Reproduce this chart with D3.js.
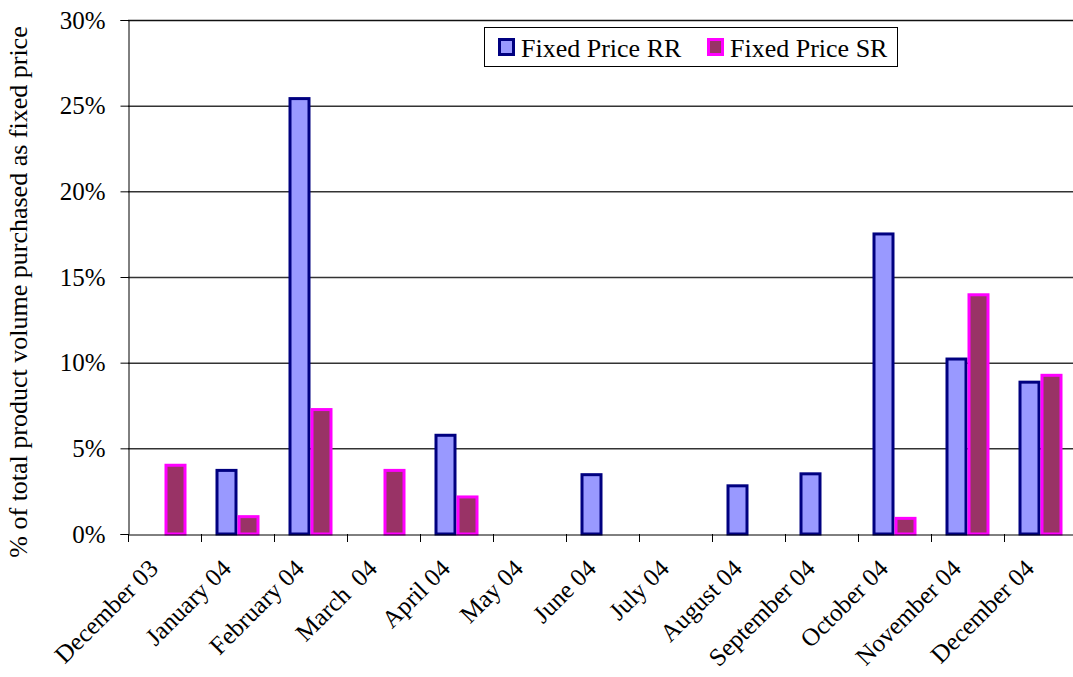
<!DOCTYPE html>
<html>
<head>
<meta charset="utf-8">
<script src="https://cdn.jsdelivr.net/npm/d3@7"></script>
<style>
  body { margin: 0; background: #fff; }
  svg, svg text { font-family: "Liberation Serif", "Times New Roman", serif !important; }
</style>
</head>
<body>
<div id="chart"></div>
<script>
// data (percent of total volume)
const months = ["December 03", "January 04", "February 04", "March  04", "April 04", "May 04",
  "June 04", "July 04", "August 04", "September 04", "October 04", "November 04", "December 04"];
const fixedRR = [null, 3.8, 25.5, null, 5.85, null, 3.55, null, 2.9, 3.6, 17.6, 10.3, 8.95];
const fixedSR = [4.1, 1.1, 7.35, 3.8, 2.25, null, null, null, null, null, 1.0, 14.05, 9.35];
const yTicks = [0, 5, 10, 15, 20, 25, 30];
const seriesNames = ["Fixed Price RR", "Fixed Price SR"];

const W = 1073, H = 677;
const margin = { top: 20, left: 128, bottom: 143 };
const bandW = 73;

const svg = d3.select("#chart").append("svg")
  .attr("width", W)
  .attr("height", H);

const x = d3.scaleBand()
  .domain(months)
  .range([margin.left, margin.left + bandW * months.length])
  .padding(0);

const x1 = d3.scaleBand()
  .domain(seriesNames)
  .range([14.5, bandW - 14.5])
  .padding(0);

const y = d3.scaleLinear()
  .domain([0, 30])
  .range([H - margin.bottom, margin.top]);

// gridlines
svg.append("g")
  .selectAll("line")
  .data(yTicks.filter(d => d > 0))
  .join("line")
  .attr("x1", margin.left)
  .attr("x2", W)
  .attr("y1", d => y(d) + 0.5)
  .attr("y2", d => y(d) + 0.5)
  .attr("stroke", d => d === 30 ? "#111" : "#333")
  .attr("stroke-width", 1.5);

// bars
const rows = months.map((m, i) => ({ m, vals: [fixedRR[i], fixedSR[i]] }));
const styles = [
  { fill: "#9999ff", stroke: "#000080" },
  { fill: "#993366", stroke: "#ff00ff" }
];

const groups = svg.append("g")
  .selectAll("g")
  .data(rows)
  .join("g")
  .attr("transform", d => `translate(${x(d.m)},0)`);

groups.selectAll("rect")
  .data(d => d.vals.map((v, k) => ({ v, k })).filter(e => e.v != null))
  .join("rect")
  .attr("x", e => x1(seriesNames[e.k]) + 1.5)
  .attr("width", x1.bandwidth() - 3)
  .attr("y", e => y(e.v) + 1.5)
  .attr("height", e => y(0) - y(e.v) - 1.5)
  .attr("fill", e => styles[e.k].fill)
  .attr("stroke", e => styles[e.k].stroke)
  .attr("stroke-width", 3);

// y axis
const yAxis = svg.append("g")
  .attr("transform", `translate(${margin.left + 0.5},0)`)
  .call(d3.axisLeft(y).tickValues(yTicks).tickFormat(d => d + "%").tickSize(8).tickPadding(15));
yAxis.select(".domain").attr("stroke", "#000");
yAxis.selectAll(".tick line").attr("stroke", "#000");
yAxis.selectAll("text")
  .attr("font-size", 25)
  .attr("fill", "#000");

// x axis
const xAxis = svg.append("g")
  .attr("transform", `translate(0,${y(0) + 0.5})`)
  .call(d3.axisBottom(x).tickSize(0).tickFormat(""));
xAxis.select(".domain").attr("stroke", "#000");

svg.append("g")
  .selectAll("line")
  .data(d3.range(months.length + 1))
  .join("line")
  .attr("x1", i => margin.left + i * bandW + 0.5)
  .attr("x2", i => margin.left + i * bandW + 0.5)
  .attr("y1", y(0))
  .attr("y2", y(0) + 8)
  .attr("stroke", "#000");

svg.append("g")
  .selectAll("text")
  .data(months)
  .join("text")
  .attr("transform", d => `translate(${x(d) + bandW / 2 - 5},${y(0) + 36}) rotate(-45)`)
  .attr("text-anchor", "end")
  .attr("font-size", 25)
  .style("white-space", "pre")
  .text(d => d);

// y axis title
svg.append("text")
  .attr("transform", `translate(27,${292}) rotate(-90)`)
  .attr("text-anchor", "middle")
  .attr("font-size", 26)
  .text("% of total product volume purchased as fixed price");

// legend
const legend = svg.append("g");
legend.append("rect")
  .attr("x", 484.5).attr("y", 27.5)
  .attr("width", 413).attr("height", 39)
  .attr("fill", "#fff")
  .attr("stroke", "#000");

const legendX = [498, 707];
seriesNames.forEach((name, k) => {
  legend.append("rect")
    .attr("x", legendX[k] + 1.5).attr("y", 39.5)
    .attr("width", 14).attr("height", 15)
    .attr("fill", styles[k].fill)
    .attr("stroke", styles[k].stroke)
    .attr("stroke-width", 3);
  legend.append("text")
    .attr("x", legendX[k] + 23)
    .attr("y", 57)
    .attr("font-size", 26)
    .text(name);
});
</script>
</body>
</html>
